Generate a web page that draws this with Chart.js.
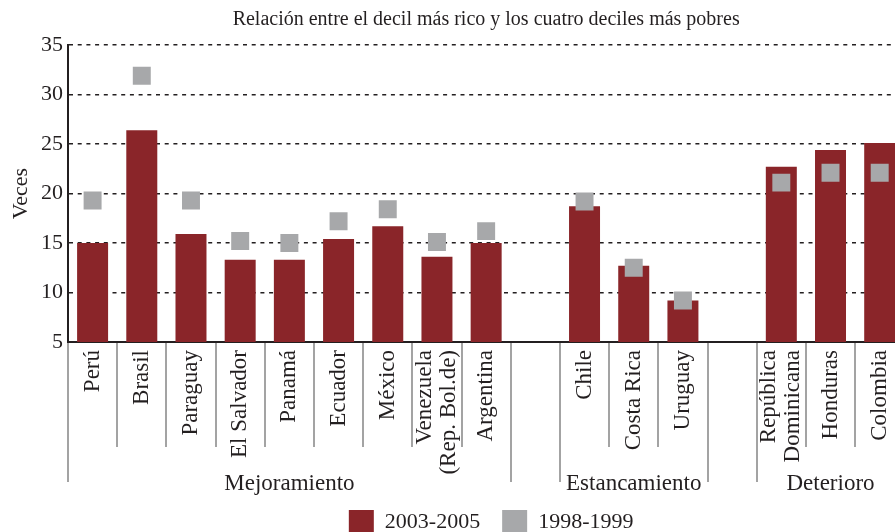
<!DOCTYPE html>
<html>
<head>
<meta charset="utf-8">
<script src="https://cdn.jsdelivr.net/npm/chart.js@4/dist/chart.umd.min.js"></script>
<style>
  html, body { margin: 0; padding: 0; background: #fff; }
  #wrap { width: 895px; height: 532px; overflow: hidden; position: relative; }
  canvas { display: block; }
</style>
</head>
<body>
<div id="wrap"><canvas id="c" width="917" height="545"></canvas></div>
<script>
const categories = ['Perú', 'Brasil', 'Paraguay', 'El Salvador', 'Panamá', 'Ecuador', 'México',
  ['Venezuela', '(Rep. Bol.de)'], 'Argentina', '', 'Chile', 'Costa Rica', 'Uruguay', '',
  ['República', 'Dominicana'], 'Honduras', 'Colombia'];
const values2003_2005 = [15.0, 26.4, 15.9, 13.3, 13.3, 15.4, 16.7, 13.6, 15.0, null, 18.7, 12.7, 9.2, null, 22.7, 24.4, 25.1];
const values1998_1999 = [19.3, 31.9, 19.3, 15.2, 15.0, 17.2, 18.4, 15.1, 16.2, null, 19.2, 12.5, 9.2, null, 21.1, 22.1, 22.1];
const groupNames = ['Mejoramiento', 'Estancamiento', 'Deterioro'];
const groupFirst = [0, 10, 14];
const groupLast = [8, 12, 16];
const yTicks = [5, 10, 15, 20, 25, 30, 35];

const FONT = "'Liberation Serif', 'Times New Roman', serif";
const INK = '#231f20';
const RED = '#8a2529';
const GRAY = '#a7a8aa';
const SEP = '#a3a3a3';

const legendNudge = {
  id: 'legendNudge',
  afterLayout(chart) {
    if (chart.legend) { chart.legend.left += 5; chart.legend.right += 5; }
  }
};

const separators = {
  id: 'separators',
  afterDraw(chart) {
    const x = chart.scales.x;
    const ctx = chart.ctx;
    const bottom = chart.chartArea.bottom;
    const n = categories.length;
    const half = (x.getPixelForValue(1) - x.getPixelForValue(0)) / 2;
    const bx = (i) => x.getPixelForValue(i) - half;
    const longSet = new Set();
    groupFirst.forEach(i => longSet.add(i));
    groupLast.forEach(i => longSet.add(i + 1));
    ctx.save();
    ctx.strokeStyle = SEP;
    ctx.lineWidth = 2;
    for (let i = 0; i <= n; i++) {
      const px = Math.round(bx(i));
      const len = longSet.has(i) ? 140 : 105;
      ctx.beginPath();
      ctx.moveTo(px, bottom + 1);
      ctx.lineTo(px, bottom + len);
      ctx.stroke();
    }
    // category labels (rotated, reading upwards)
    ctx.fillStyle = INK;
    ctx.font = '23px ' + FONT;
    categories.forEach((lab, i) => {
      const lines = Array.isArray(lab) ? lab : [lab];
      if (!lines.join('')) return;
      ctx.save();
      ctx.translate(x.getPixelForValue(i), bottom + 8);
      ctx.rotate(-Math.PI / 2);
      ctx.textAlign = 'right';
      ctx.textBaseline = 'middle';
      lines.forEach((l, k) => ctx.fillText(l, 0, (k - (lines.length - 1) / 2) * 24));
      ctx.restore();
    });
    // group labels
    ctx.font = '23px ' + FONT;
    ctx.textAlign = 'center';
    ctx.textBaseline = 'middle';
    groupNames.forEach((g, k) => {
      const cx = (bx(groupFirst[k]) + bx(groupLast[k] + 1)) / 2;
      ctx.fillText(g, cx, bottom + 142);
    });
    ctx.restore();
  }
};

new Chart(document.getElementById('c'), {
  type: 'bar',
  data: {
    labels: categories,
    datasets: [
      {
        type: 'bar',
        label: '2003-2005',
        data: values2003_2005,
        backgroundColor: RED,
        borderWidth: 0,
        barPercentage: 0.63,
        categoryPercentage: 1.0,
        order: 1
      },
      {
        type: 'line',
        label: '1998-1999',
        data: values1998_1999,
        showLine: false,
        pointStyle: 'rect',
        pointRadius: 12.7,
        pointHoverRadius: 12.7,
        pointBackgroundColor: GRAY,
        pointBorderWidth: 0,
        backgroundColor: GRAY,
        borderColor: GRAY,
        borderWidth: 0,
        order: 0
      }
    ]
  },
  options: {
    responsive: false,
    animation: false,
    devicePixelRatio: 1,
    layout: { padding: { left: 0, right: 6, top: 0, bottom: 0 } },
    plugins: {
      title: {
        display: true,
        fullSize: false,
        text: 'Relación entre el decil más rico y los cuatro deciles más pobres',
        color: INK,
        font: { family: FONT, size: 20, weight: 'normal' },
        padding: { top: 8, bottom: 13 }
      },
      legend: {
        position: 'bottom',
        fullSize: false,
        labels: {
          color: INK,
          font: { family: FONT, size: 22 },
          boxWidth: 25,
          boxHeight: 25,
          padding: 22,
          sort: (a, b) => a.datasetIndex - b.datasetIndex
        }
      },
      tooltip: { enabled: false }
    },
    scales: {
      x: {
        offset: true,
        grid: { display: false, drawTicks: false },
        border: { display: true, color: INK, width: 2 },
        ticks: { display: false, autoSkip: false },
        afterFit(s) { s.height = 146; }
      },
      y: {
        min: 5,
        max: 35,
        afterBuildTicks(s) { s.ticks = yTicks.map(v => ({ value: v })); },
        grid: { color: INK, lineWidth: 1.5, drawTicks: false },
        border: { display: true, color: INK, width: 2, dash: [4, 4.7] },
        ticks: { padding: 5, color: INK, font: { family: FONT, size: 22 } },
        title: {
          display: true,
          text: 'Veces',
          color: INK,
          font: { family: FONT, size: 22 },
          padding: { top: 8, bottom: 0 }
        },
        afterFit(s) { s.width = 68; }
      }
    }
  },
  plugins: [legendNudge, separators]
});
</script>
</body>
</html>
